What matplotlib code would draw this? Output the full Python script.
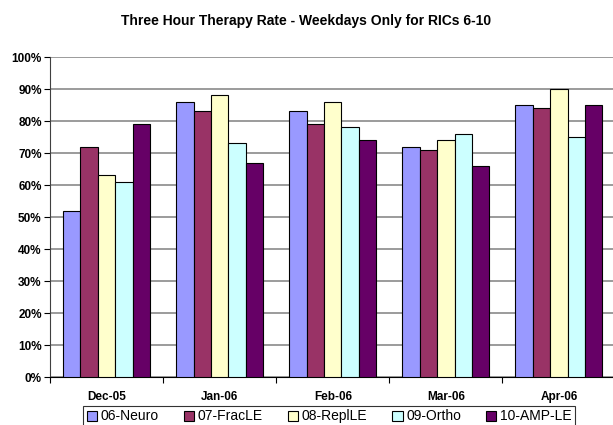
import matplotlib.pyplot as plt
import numpy as np

plt.rcParams['font.family'] = ['Liberation Sans', 'DejaVu Sans']

months = ['Dec-05', 'Jan-06', 'Feb-06', 'Mar-06', 'Apr-06']
series = ['06-Neuro', '07-FracLE', '08-ReplLE', '09-Ortho', '10-AMP-LE']
neuro = [52, 86, 83, 72, 85]
fracle = [72, 83, 79, 71, 84]
replle = [63, 88, 86, 74, 90]
ortho = [61, 73, 78, 76, 75]
amp = [79, 67, 74, 66, 85]
colors = ['#9999FF', '#993366', '#FFFFCC', '#CCFFFF', '#660066']

values = [neuro, fracle, replle, ortho, amp]

fig = plt.figure(figsize=(6.13, 4.25), dpi=100)
ax = fig.add_axes([50/613, 1-377/425, 565.5/613, 320/425])

x = np.arange(len(months))
w = 0.154
for i, (name, vals) in enumerate(zip(series, values)):
    ax.bar(x + (i - 2) * w, vals, width=w, color=colors[i], edgecolor='black',
           linewidth=0.8, label=name, zorder=3)

ax.set_xlim(-0.5, 4.5)
ax.set_ylim(0, 100)
ax.set_yticks(range(0, 101, 10))
ax.set_yticklabels([f'{v}%' for v in range(0, 101, 10)], fontsize=8.5, fontweight='bold')
ax.yaxis.grid(True, color='#808080', linewidth=1.1, zorder=0)

ax.set_xticks(x)
ax.set_xticklabels(months, fontsize=8.5, fontweight='bold')
ax.tick_params(axis='x', length=0, pad=10)
ax.set_xticks(np.arange(-0.5, 5, 1), minor=True)
ax.tick_params(axis='x', which='minor', length=4, width=0.8, direction='out')
ax.tick_params(axis='y', length=4, width=0.8, direction='out', pad=2)

for s in ['top', 'right']:
    ax.spines[s].set_visible(False)
ax.spines['left'].set_color('#404040')
ax.spines['bottom'].set_color('black')

fig.text(306/613, 1-21/425, 'Three Hour Therapy Rate - Weekdays Only for RICs 6-10',
         ha='center', va='center', fontsize=10, fontweight='bold')

leg = fig.legend(loc='upper center', bbox_to_anchor=(329/613, 1-406/425), ncol=5,
                 fontsize=10, frameon=True, fancybox=False, edgecolor='black',
                 handlelength=0.75, handleheight=0.75, handletextpad=0.25,
                 columnspacing=1.8, borderpad=0.25, borderaxespad=0)
leg.get_frame().set_linewidth(0.8)

plt.savefig('out.png', dpi=100)
